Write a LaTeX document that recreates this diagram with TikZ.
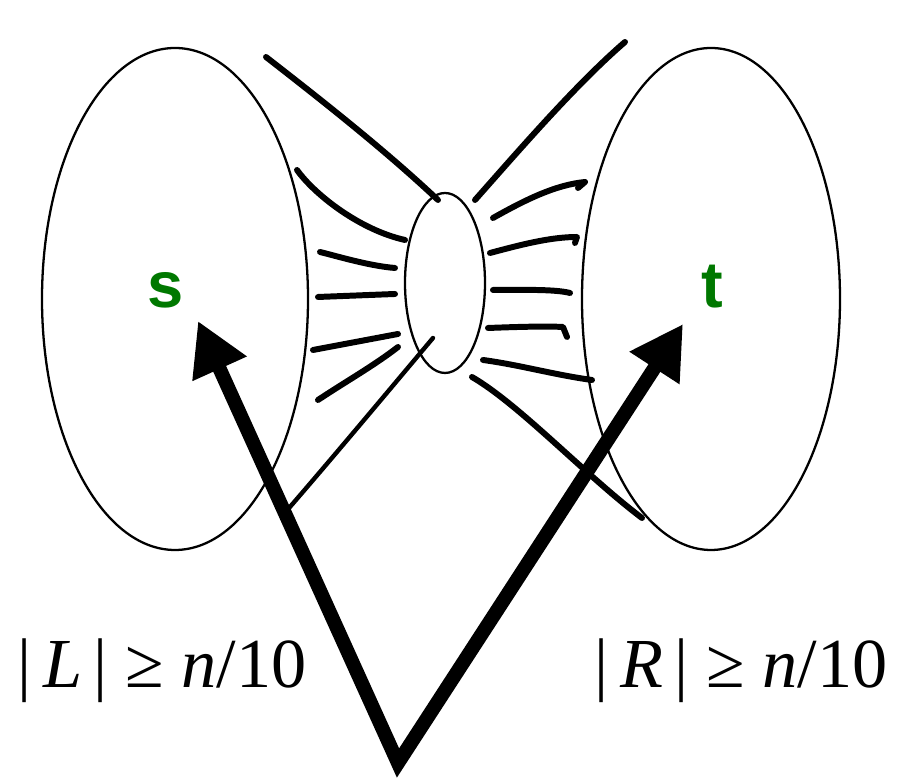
\documentclass[tikz,border=0pt]{standalone}
\usepackage{fontspec}
\setmainfont{Liberation Serif}
\setsansfont{Liberation Sans}
\usetikzlibrary{shapes.geometric,arrows.meta}
\definecolor{sgreen}{RGB}{0,120,0}
\tikzset{
  bigset/.style={ellipse, draw=black, line width=1.3pt, inner sep=0pt},
  pinch/.style={ellipse, draw=black, line width=1.3pt, inner sep=0pt, minimum width=1.6cm, minimum height=3.6cm},
  strand/.style={line width=3.4pt, draw=black, line cap=round, line join=round},
  thinstrand/.style={line width=2.5pt, draw=black, line cap=round},
  pointer/.style={line width=8pt, draw=black, line join=miter,
    {Triangle[length=1.05cm, width=1.12cm]}-{Triangle[length=1.05cm, width=1.12cm]}},
  termlabel/.style={font=\sffamily\bfseries\fontsize{37}{42}\selectfont, text=sgreen, inner sep=0pt, anchor=base},
  sizelabel/.style={font=\fontsize{40}{48}\selectfont, inner sep=0pt, anchor=base},
}

\begin{document}
\begin{tikzpicture}
\useasboundingbox (0,0) rectangle (17.94,15.6);
% the two big sets and the small cut between them
\node[bigset, minimum width=5.32cm, minimum height=10.04cm] (Lset) at (3.500,9.620) {};
\node[bigset, minimum width=5.16cm, minimum height=10.04cm] (Rset) at (14.220,9.620) {};
\node[pinch] (cut) at (8.900,9.940) {};
\node[termlabel] (s) at (3.320,9.440) {s};
\node[termlabel] (t) at (14.240,9.440) {t};
% edges on the left
\draw[strand] (5.320,14.460) .. controls (6.400,13.620) and (7.700,12.600) .. (8.760,11.600);
\draw[strand] (5.940,12.200) .. controls (6.300,11.700) and (7.200,11.000) .. (8.100,10.800);
\draw[strand] (6.400,10.560) .. controls (6.800,10.460) and (7.400,10.280) .. (7.900,10.240);
\draw[strand] (6.360,9.660) -- (7.900,9.720);
\draw[strand] (6.260,8.600) -- (7.960,8.920);
\draw[strand] (6.360,7.600) .. controls (6.900,7.960) and (7.500,8.300) .. (7.960,8.660);
\draw[thinstrand] (8.660,8.840) .. controls (7.700,7.700) and (6.700,6.500) .. (5.660,5.300);
% edges on the right
\draw[strand] (9.500,11.600) .. controls (10.300,12.500) and (11.500,13.900) .. (12.500,14.760);
\draw[strand] (9.860,11.240) .. controls (10.500,11.600) and (11.100,11.900) .. (11.700,11.960) -- (11.560,11.840);
\draw[strand] (9.800,10.540) .. controls (10.400,10.700) and (11.000,10.860) .. (11.540,10.860) -- (11.500,10.740);
\draw[strand] (9.860,9.800) .. controls (10.400,9.800) and (11.100,9.820) .. (11.400,9.740);
\draw[strand] (9.760,9.040) .. controls (10.300,9.060) and (10.900,9.080) .. (11.260,9.060) -- (11.340,8.860);
\draw[strand] (9.660,8.400) .. controls (10.400,8.300) and (11.100,8.100) .. (11.840,8.000);
\draw[strand] (9.440,8.060) .. controls (10.400,7.500) and (11.700,6.100) .. (12.840,5.240);
% the two pointers
\coordinate (apex) at (7.960,0.340);
\coordinate (ltip) at (3.960,9.180);
\coordinate (rtip) at (13.660,9.120);
\draw[pointer] (ltip) -- (apex) -- (rtip);
% sizes
\node[sizelabel] (lsize) at (3.240,1.840) {|\,\textit{L}\,|\ ≥\ \textit{n}/10};
\node[sizelabel] (rsize) at (14.820,1.840) {|\,\textit{R}\,|\ ≥\ \textit{n}/10};
\end{tikzpicture}
\end{document}
